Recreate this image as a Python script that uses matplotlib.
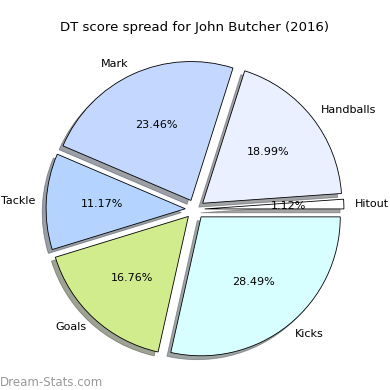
import matplotlib
matplotlib.use("Agg")
import matplotlib.pyplot as plt

labels = ["Hitout", "Handballs", "Mark", "Tackle", "Goals", "Kicks"]
shares = [1.12, 18.99, 23.46, 11.17, 16.76, 28.49]
colors = ["#ffffff", "#eaf0ff", "#c4d8ff", "#b4d4ff", "#d0ec8c", "#d8ffff"]
explode = [0.07] * len(labels)

fig = plt.figure(figsize=(3.9, 3.9), dpi=100)
ax = fig.add_axes([0.08, 0.05, 0.84, 0.83])
wedges, texts, autotexts = ax.pie(
    shares,
    labels=labels,
    colors=colors,
    explode=explode,
    autopct="%.2f%%",
    startangle=0,
    shadow=True,
    labeldistance=1.08,
    wedgeprops={"edgecolor": "black", "linewidth": 0.6},
    textprops={"fontsize": 8},
)
ax.axis("equal")
fig.suptitle("DT score spread for John Butcher (2016)", fontsize=9.5, y=0.945)
fig.text(0.0, 0.01, "Dream-Stats.com", fontsize=8.5, color="#999999")
fig.savefig("out.png", dpi=100)
